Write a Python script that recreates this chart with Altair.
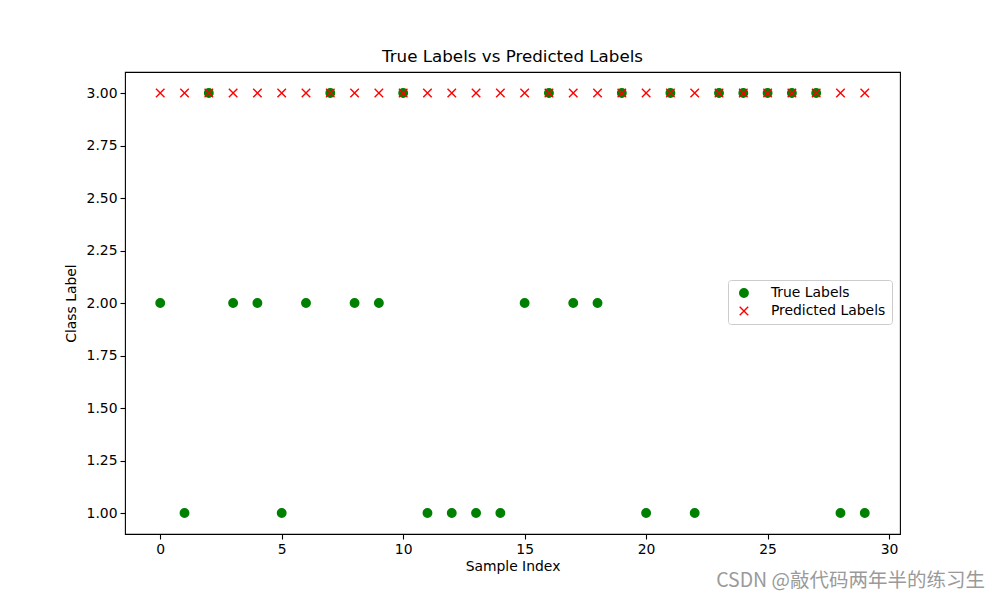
import altair as alt
import pandas as pd

sample_index = list(range(30))
true_labels = [2, 1, 3, 2, 2, 1, 2, 3, 2, 2, 3, 1, 1, 1, 1, 2, 3, 2, 2, 3, 1, 3, 1, 3, 3, 3, 3, 3, 1, 1]
pred_labels = [3] * 30
series_names = ["True Labels", "Predicted Labels"]
x_ticks = [0, 5, 10, 15, 20, 25, 30]
y_ticks = [1.0, 1.25, 1.5, 1.75, 2.0, 2.25, 2.5, 2.75, 3.0]

df_true = pd.DataFrame({"idx": sample_index, "label": true_labels, "series": series_names[0]})
df_pred = pd.DataFrame({"idx": sample_index, "label": pred_labels, "series": series_names[1]})

FONT = "DejaVu Sans"
xscale = alt.Scale(domain=[-1.45, 30.45], nice=False, zero=False)
yscale = alt.Scale(domain=[0.9, 3.1], nice=False, zero=False)
shape_scale = alt.Scale(domain=series_names, range=["circle", "M-1,-1L1,1M-1,1L1,-1"])
stroke_scale = alt.Scale(domain=series_names, range=["green", "red"])
fill_scale = alt.Scale(domain=series_names, range=["green", "transparent"])

xenc = alt.X("idx:Q", scale=xscale, title="Sample Index",
             axis=alt.Axis(values=x_ticks, format="d", grid=False))
yenc = alt.Y("label:Q", scale=yscale, title="Class Label",
             axis=alt.Axis(values=y_ticks, format=".2f", grid=False))
legend = alt.Legend(title=None, orient="none", legendX=603, legendY=208,
                    strokeColor="#cccccc", fillColor="white", cornerRadius=3,
                    padding=6, labelFontSize=13.9, labelFont=FONT, labelColor="black",
                    symbolSize=72, symbolStrokeWidth=1.4, rowPadding=3, labelOffset=20,
                    symbolOffset=3)

def layer(df):
    return alt.Chart(df).mark_point(size=72, strokeWidth=1.4, opacity=1).encode(
        x=xenc, y=yenc,
        shape=alt.Shape("series:N", scale=shape_scale, legend=legend),
        stroke=alt.Stroke("series:N", scale=stroke_scale, legend=legend),
        fill=alt.Fill("series:N", scale=fill_scale, legend=legend),
    )

wm = alt.Chart(pd.DataFrame({"t": ["CSDN @敲代码两年半的练习生"]})).mark_text(
    align="right", baseline="middle", fontSize=19.5, color="#9a9a9a",
    font="Noto Sans CJK SC"
).encode(text="t:N", x=alt.value(860), y=alt.value(509))

chart = alt.layer(layer(df_true), layer(df_pred), wm).properties(
    width=775, height=462,
    title=alt.TitleParams("True Labels vs Predicted Labels", fontSize=16.7, font=FONT,
                          fontWeight="normal", color="black", offset=6),
    autosize=alt.AutoSizeParams(type="none"),
    padding={"left": 125, "top": 72, "right": 100, "bottom": 66},
).configure_view(stroke="black", strokeWidth=1.1).configure_axis(
    domain=False, tickColor="black", tickSize=5, tickWidth=1.1,
    labelFont=FONT, labelFontSize=13.9, labelColor="black", labelPadding=3,
    titleFont=FONT, titleFontSize=13.9, titleFontWeight="normal", titleColor="black",
).configure_axisX(titlePadding=4).configure_axisY(titlePadding=8)

chart.save("out.html", embed_options={"renderer": "svg", "actions": False})
